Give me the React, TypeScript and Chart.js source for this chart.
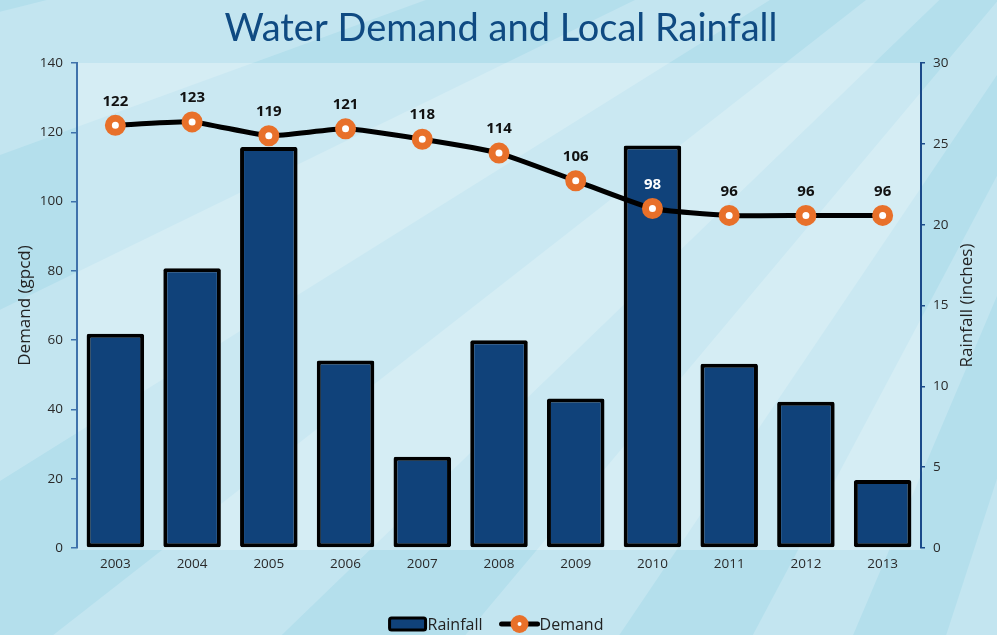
import React, { useEffect, useRef } from "react";
import { Chart, registerables } from "chart.js";

Chart.register(...registerables);

const chartTitle = "Water Demand and Local Rainfall";
const years = ["2003", "2004", "2005", "2006", "2007", "2008", "2009", "2010", "2011", "2012", "2013"];
const rainfall = [13.25, 17.3, 24.8, 11.6, 5.65, 12.85, 9.25, 24.9, 11.4, 9.05, 4.2];
const demand = [122, 123, 119, 121, 118, 114, 106, 98, 96, 96, 96];
const demandAxis = { min: 0, max: 140, step: 20, title: "Demand (gpcd)" };
const rainAxis = { min: 0, max: 30, step: 5, title: "Rainfall (inches)" };

const W = 997;
const H = 635;
const FONT = "'Open Sans', 'Noto Sans', sans-serif";
const TITLE_FONT = "Lato, 'Open Sans', sans-serif";
const BAR_FILL = "#10427a";
const ORANGE = "#e8702a";
const RAY_ANGLES = [96, 100, 104, 108, 113, 118, 124, 130, 136, 142, 148, 154, 160, 166, 172, 178];

const backgroundPlugin = {
  id: "rayBackground",
  beforeDraw(chart: any) {
    const { ctx, chartArea } = chart;
    ctx.save();
    ctx.fillStyle = "#b4dfec";
    ctx.fillRect(0, 0, W, H);
    const cx = 1250;
    const cy = -300;
    const R = 4000;
    for (let i = 0; i + 1 < RAY_ANGLES.length; i += 2) {
      const a1 = (RAY_ANGLES[i] * Math.PI) / 180;
      const a2 = (RAY_ANGLES[i + 1] * Math.PI) / 180;
      ctx.beginPath();
      ctx.moveTo(cx, cy);
      ctx.lineTo(cx + R * Math.cos(a1), cy + R * Math.sin(a1));
      ctx.lineTo(cx + R * Math.cos(a2), cy + R * Math.sin(a2));
      ctx.closePath();
      ctx.fillStyle = "#c3e5f0";
      ctx.fill();
    }
    ctx.fillStyle = "rgba(255,255,255,0.3)";
    ctx.fillRect(chartArea.left, chartArea.top, chartArea.right - chartArea.left, chartArea.bottom - chartArea.top + 2);
    ctx.restore();
  },
};

const overlayPlugin = {
  id: "overlayText",
  afterDatasetsDraw(chart: any) {
    const { ctx } = chart;
    const lineMeta = chart.getDatasetMeta(1);
    const barMeta = chart.getDatasetMeta(0);
    ctx.save();
    ctx.font = `bold 15px ${FONT}`;
    ctx.textAlign = "center";
    ctx.textBaseline = "middle";
    lineMeta.data.forEach((pt: any, i: number) => {
      const x = pt.x;
      const y = pt.y - 24;
      const bar = barMeta.data[i];
      const inside = bar && x > bar.x - bar.width / 2 && x < bar.x + bar.width / 2 && y > bar.y;
      ctx.fillStyle = inside ? "#ffffff" : "#111111";
      ctx.fillText(String(demand[i]), x, y);
    });
    ctx.restore();
  },
  afterDraw(chart: any) {
    const { ctx, chartArea } = chart;
    ctx.save();
    // Title
    ctx.font = `38px ${TITLE_FONT}`;
    ctx.fillStyle = "#0f4a82";
    ctx.textAlign = "center";
    ctx.textBaseline = "middle";
    ctx.fillText(chartTitle, 501, 29);

    // Axis titles (both read bottom-to-top)
    const midY = (chartArea.top + chartArea.bottom) / 2;
    ctx.font = `17px ${FONT}`;
    ctx.fillStyle = "#222";
    ctx.save();
    ctx.translate(25, midY);
    ctx.rotate(-Math.PI / 2);
    ctx.fillText(demandAxis.title, 0, 0);
    ctx.restore();
    ctx.save();
    ctx.translate(967, midY);
    ctx.rotate(-Math.PI / 2);
    ctx.fillText(rainAxis.title, 0, 0);
    ctx.restore();

    // Legend
    ctx.font = `16px ${FONT}`;
    ctx.textBaseline = "middle";
    ctx.textAlign = "left";
    const t1 = "Rainfall";
    const t2 = "Demand";
    const w1 = ctx.measureText(t1).width;
    const w2 = ctx.measureText(t2).width;
    const boxW = 36;
    const lineW = 40;
    const gap = 17;
    const total = boxW + 2 + w1 + gap + lineW + w2;
    let x = W / 2 - total / 2 - 2;
    const y = 624;
    ctx.fillStyle = BAR_FILL;
    ctx.fillRect(x, y - 6, boxW, 12);
    ctx.strokeStyle = "#000";
    ctx.lineWidth = 3;
    ctx.beginPath();
    ctx.roundRect(x, y - 6, boxW, 12, 2);
    ctx.stroke();
    x += boxW + 2;
    ctx.fillStyle = "#222";
    ctx.fillText(t1, x, y + 1);
    x += w1 + gap;
    ctx.strokeStyle = "#000";
    ctx.lineWidth = 5;
    ctx.lineCap = "round";
    ctx.beginPath();
    ctx.moveTo(x + 2, y);
    ctx.lineTo(x + lineW - 2, y);
    ctx.stroke();
    ctx.beginPath();
    ctx.arc(x + lineW / 2, y, 9, 0, Math.PI * 2);
    ctx.fillStyle = ORANGE;
    ctx.fill();
    ctx.beginPath();
    ctx.arc(x + lineW / 2, y, 2, 0, Math.PI * 2);
    ctx.fillStyle = "#fff";
    ctx.fill();
    x += lineW;
    ctx.fillStyle = "#222";
    ctx.fillText(t2, x, y + 1);
    ctx.restore();
  },
};

export default function App() {
  const ref = useRef<HTMLCanvasElement | null>(null);

  useEffect(() => {
    if (!ref.current) return;
    const chart = new Chart(ref.current, {
      type: "bar",
      data: {
        labels: years,
        datasets: [
          {
            type: "bar",
            label: "Rainfall",
            data: rainfall,
            yAxisID: "y1",
            backgroundColor: BAR_FILL,
            borderColor: "#000000",
            borderWidth: 4,
            borderSkipped: false,
            borderRadius: 2,
            categoryPercentage: 0.75,
            barPercentage: 1,
            order: 2,
          } as any,
          {
            type: "line",
            label: "Demand",
            data: demand,
            yAxisID: "y",
            borderColor: "#000000",
            borderWidth: 5,
            tension: 0.15,
            pointRadius: 7,
            pointBorderWidth: 7,
            pointBackgroundColor: "#ffffff",
            pointBorderColor: ORANGE,
            order: 1,
          } as any,
        ],
      },
      options: {
        responsive: false,
        animation: false,
        devicePixelRatio: 1,
        layout: { padding: { top: 63, left: 0, right: 0, bottom: 0 } },
        plugins: {
          legend: { display: false },
          title: { display: false },
          tooltip: { enabled: false },
        },
        scales: {
          x: {
            grid: { display: false, drawTicks: false },
            border: { display: false },
            ticks: { color: "#2a2a2a", font: { size: 13.5, family: FONT }, padding: 8 },
            afterFit: (s: any) => {
              s.height = 87;
            },
          },
          y: {
            position: "left",
            min: demandAxis.min,
            max: demandAxis.max,
            ticks: { stepSize: demandAxis.step, color: "#2a2a2a", font: { size: 13.5, family: FONT }, padding: 8 },
            grid: { drawOnChartArea: false, drawTicks: true, tickLength: 6, color: "#3f72ab", lineWidth: 1.5 },
            border: { display: true, color: "#3f72ab", width: 2 },
            title: { display: false },
            afterFit: (s: any) => {
              s.width = 77;
            },
          },
          y1: {
            position: "right",
            min: rainAxis.min,
            max: rainAxis.max,
            ticks: { stepSize: rainAxis.step, color: "#2a2a2a", font: { size: 13.5, family: FONT }, padding: 8 },
            grid: { drawOnChartArea: false, drawTicks: true, tickLength: 4, color: "#1a4a8a", lineWidth: 1.5 },
            border: { display: true, color: "#1a4a8a", width: 2 },
            title: { display: false },
            afterFit: (s: any) => {
              s.width = 76;
            },
          },
        },
      },
      plugins: [backgroundPlugin, overlayPlugin],
    });
    return () => chart.destroy();
  }, []);

  return (
    <div style={{ position: "fixed", left: 0, top: 0, width: W, height: H }}>
      <canvas ref={ref} width={W} height={H} style={{ display: "block", width: W, height: H }} />
    </div>
  );
}
